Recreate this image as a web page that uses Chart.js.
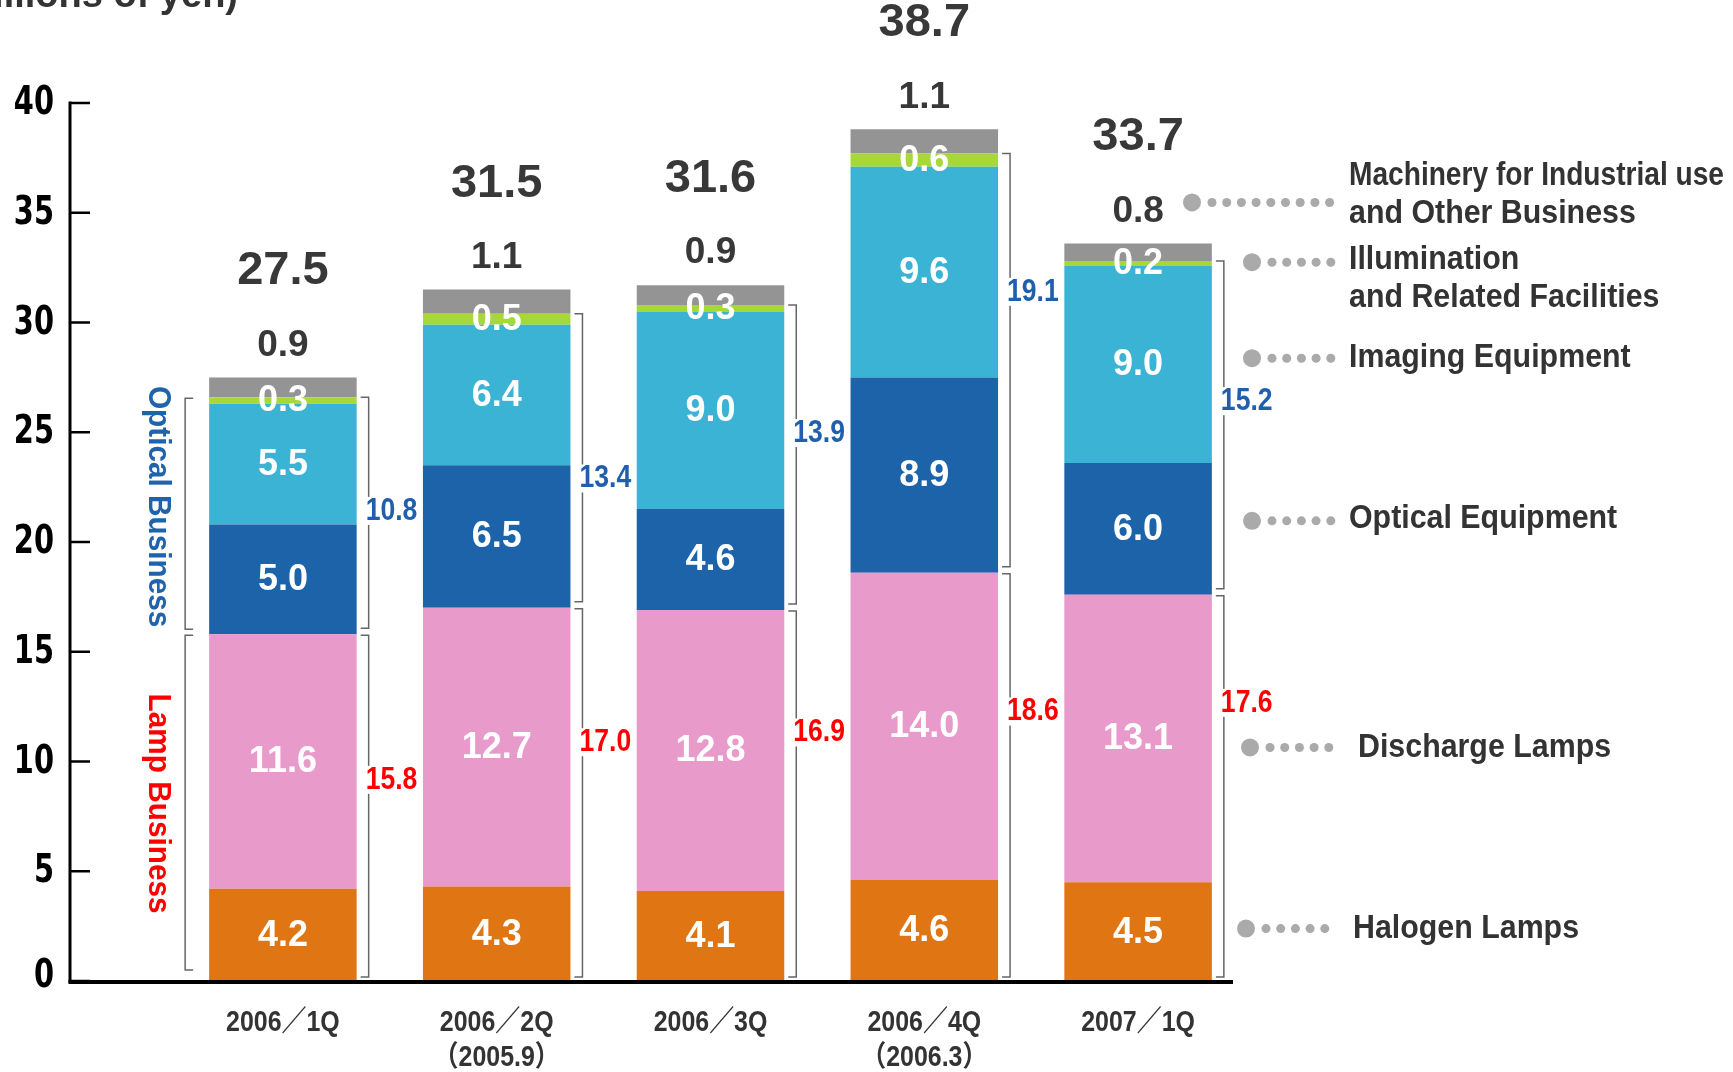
<!DOCTYPE html>
<html>
<head>
<meta charset="utf-8">
<script src="https://cdn.jsdelivr.net/npm/chart.js@4.4.1/dist/chart.umd.min.js"></script>
<style>
  html, body { margin: 0; padding: 0; background: #fff; overflow: hidden; }
  #grafico { display: block; }
</style>
</head>
<body>
<canvas id="grafico" width="1733" height="1072"></canvas>
<script>
// dados (mil milhões de ienes)
const categorias = [['2006／1Q'], ['2006／2Q', '（2005.9）'], ['2006／3Q'], ['2006／4Q', '（2006.3）'], ['2007／1Q']];
const halogenLamps   = [4.2, 4.3, 4.1, 4.6, 4.5];
const dischargeLamps = [11.6, 12.7, 12.8, 14.0, 13.1];
const opticalEquip   = [5.0, 6.5, 4.6, 8.9, 6.0];
const imagingEquip   = [5.5, 6.4, 9.0, 9.6, 9.0];
const illumination   = [0.3, 0.5, 0.3, 0.6, 0.2];
const machinery      = [0.9, 1.1, 0.9, 1.1, 0.8];
const totais          = [27.5, 31.5, 31.6, 38.7, 33.7];
const lampBusiness    = [15.8, 17.0, 16.9, 18.6, 17.6];
const opticalBusiness = [10.8, 13.4, 13.9, 19.1, 15.2];
const nomesSeries = [
    ['Halogen Lamps'],
    ['Discharge Lamps'],
    ['Optical Equipment'],
    ['Imaging Equipment'],
    ['Illumination', 'and Related Facilities'],
    ['Machinery for Industrial use', 'and Other Business']
];

const cores = ['#E07514', '#E89ACA', '#1C63A9', '#3BB3D4', '#A8D838', '#949494'];
const SANS = '"Liberation Sans", "Noto Sans CJK JP", Arial, sans-serif';
const HEAVY = '"DejaVu Sans", sans-serif';

// posição de cada legenda (estilo)
const legendaEstilo = [
    { dotX: 1246, textX: 1353, dy: -3, linhas: [0] },
    { dotX: 1250, textX: 1358, dy: 9, linhas: [0] },
    { dotX: 1252, textX: 1349, dy: -8, linhas: [-2] },
    { dotX: 1252, textX: 1349, dy: -6, linhas: [0] },
    { dotX: 1252, textX: 1349, dy: -1, linhas: [-2, 36] },
    { dotX: 1192, textX: 1349, dy: -7, linhas: [-27, 11] }
];
// altura relativa dos subtotais dentro de cada chaveta (estilo)
const fracLamp = [0.58, 0.64, 0.67, 0.66, 0.72];
const fracOpt  = [0.52, 0.44, 0.58, 0.67, 0.58];

// texto com compressão horizontal
function texto(ctx, txt, x, y, fonte, cor, esc, align, maxW) {
    ctx.save();
    ctx.font = fonte;
    ctx.fillStyle = cor;
    ctx.textAlign = align || 'center';
    ctx.textBaseline = 'middle';
    ctx.translate(x, y);
    ctx.scale(esc, 1);
    if (maxW) ctx.fillText(txt, 0, 0, maxW / esc);
    else ctx.fillText(txt, 0, 0);
    ctx.restore();
}

const desenho = {
    id: 'desenho',
    afterDatasetsDraw(chart) {
        const ctx = chart.ctx;
        const ys = chart.scales.y;
        const xs = chart.scales.x;
        const area = chart.chartArea;
        const y0 = ys.getPixelForValue(0);
        const eixoX = area.left - 106;
        const metas = chart.data.datasets.map((d, i) => chart.getDatasetMeta(i));
        ctx.save();

        // título cortado no topo
        ctx.fillStyle = '#333';
        ctx.font = 'bold 38px ' + SANS;
        ctx.textAlign = 'right';
        ctx.textBaseline = 'alphabetic';
        ctx.fillText('(Billions of yen)', 238, 7);

        // eixo y com marcas para dentro
        ctx.strokeStyle = '#000';
        ctx.lineWidth = 3;
        ctx.beginPath();
        ctx.moveTo(eixoX, ys.getPixelForValue(40) - 1.5);
        ctx.lineTo(eixoX, y0 + 2);
        ctx.stroke();
        ctx.lineWidth = 2.5;
        ys.ticks.forEach(t => {
            const py = ys.getPixelForValue(t.value);
            ctx.beginPath();
            ctx.moveTo(eixoX, py);
            ctx.lineTo(eixoX + 20, py);
            ctx.stroke();
            texto(ctx, String(t.value), eixoX - 16, py + (t.value === 0 ? -4 : 1), 'bold 39px ' + HEAVY, '#000', 0.74, 'right');
        });
        // eixo x
        ctx.lineWidth = 4;
        ctx.beginPath();
        ctx.moveTo(eixoX - 1.5, y0 + 1);
        ctx.lineTo(area.right - 12, y0 + 1);
        ctx.stroke();

        // rótulos do eixo x
        categorias.forEach((linhas, i) => {
            const px = xs.getPixelForTick(i);
            linhas.forEach((t, k) => texto(ctx, t, px, y0 + 42 + k * 35, 'bold 29px ' + SANS, '#333', 0.86));
        });

        // valores dentro das barras
        for (let d = 0; d < 5; d++) {
            metas[d].data.forEach((el, i) => {
                const v = chart.data.datasets[d].data[i];
                texto(ctx, v.toFixed(1), el.x, (el.y + el.base) / 2 + 1, 'bold 36px ' + SANS, '#fff', 1);
            });
        }

        // valores por cima
        metas[5].data.forEach((el, i) => {
            texto(ctx, machinery[i].toFixed(1), el.x, el.y - 32, 'bold 37px ' + SANS, '#383838', 1);
            texto(ctx, totais[i].toFixed(1), el.x, el.y - 106, 'bold 47px ' + SANS, '#383838', 1);
        });

        // chavetas
        ctx.strokeStyle = '#666';
        ctx.lineWidth = 1.5;
        const chaveta = (bx, yTop, yBot, dir) => {
            ctx.beginPath();
            ctx.moveTo(bx - 8 * dir, yTop);
            ctx.lineTo(bx, yTop);
            ctx.lineTo(bx, yBot);
            ctx.lineTo(bx - 8 * dir, yBot);
            ctx.stroke();
        };
        const fonteSub = 'bold 32px ' + SANS;
        const subtotal = (txt, x, y, cor) => {
            ctx.font = fonteSub;
            const w = ctx.measureText(txt).width * 0.83;
            ctx.fillStyle = '#fff';
            ctx.fillRect(x - 1, y - 14, w + 2, 28);
            texto(ctx, txt, x, y, fonteSub, cor, 0.83, 'left');
        };
        metas[0].data.forEach((el, i) => {
            const right = el.x + el.width / 2;
            const left = el.x - el.width / 2;
            const yLamp = metas[1].data[i].y;
            const yOpt = metas[4].data[i].y;
            const bx = right + 12;
            chaveta(bx, yLamp + 1, y0 - 4, 1);
            chaveta(bx, yOpt, yLamp - 6, 1);
            if (i === 0) {
                const lx = left - 24;
                chaveta(lx, yLamp + 1, y0 - 11, -1);
                chaveta(lx, yOpt + 1, yLamp - 5, -1);
                const rodado = (txt, cy, cor) => {
                    ctx.save();
                    ctx.translate(lx - 27, cy);
                    ctx.rotate(Math.PI / 2);
                    texto(ctx, txt, 0, 0, 'bold 32px ' + SANS, cor, 0.93);
                    ctx.restore();
                };
                rodado('Optical Business', (yOpt + yLamp) / 2 - 9, '#1F63AD');
                rodado('Lamp Business', (yLamp + y0) / 2 - 4, '#FF0000');
            }
            // subtotais dos negócios
            const tx = bx - 3;
            subtotal(lampBusiness[i].toFixed(1), tx, ys.getPixelForValue(lampBusiness[i] * fracLamp[i]), '#FF0000');
            subtotal(opticalBusiness[i].toFixed(1), tx, ys.getPixelForValue(lampBusiness[i] + opticalBusiness[i] * fracOpt[i]), '#1F5FAD');
        });

        // legenda à direita, alinhada com a última barra
        const last = metas[0].data.length - 1;
        nomesSeries.forEach((linhas, d) => {
            const el = metas[d].data[last];
            const st = legendaEstilo[d];
            const cy = (d === 5 ? el.y - 34 : (el.y + el.base) / 2) + st.dy;
            ctx.fillStyle = '#AAAAAA';
            ctx.beginPath();
            ctx.arc(st.dotX, cy, 9, 0, Math.PI * 2);
            ctx.fill();
            for (let x = st.dotX + 20; x <= 1333; x += 14.7) {
                ctx.beginPath();
                ctx.arc(x, cy, 4.5, 0, Math.PI * 2);
                ctx.fill();
            }
            linhas.forEach((t, k) => texto(ctx, t, st.textX, cy + st.linhas[k], 'bold 33px ' + SANS, '#333', 0.92, 'left', 1724 - st.textX));
        });
        ctx.restore();
    }
};

new Chart(document.getElementById('grafico'), {
    type: 'bar',
    data: {
        labels: categorias,
        datasets: [
            { label: nomesSeries[0].join(' '), data: halogenLamps, backgroundColor: cores[0] },
            { label: nomesSeries[1].join(' '), data: dischargeLamps, backgroundColor: cores[1] },
            { label: nomesSeries[2].join(' '), data: opticalEquip, backgroundColor: cores[2] },
            { label: nomesSeries[3].join(' '), data: imagingEquip, backgroundColor: cores[3] },
            { label: nomesSeries[4].join(' '), data: illumination, backgroundColor: cores[4] },
            { label: nomesSeries[5].join(' '), data: machinery, backgroundColor: cores[5] }
        ]
    },
    options: {
        responsive: false,
        animation: false,
        datasets: { bar: { borderWidth: 0, barPercentage: 0.69, categoryPercentage: 1.0 } },
        layout: { padding: { top: 103, right: 488, bottom: 0, left: 0 } },
        plugins: { legend: { display: false }, tooltip: { enabled: false } },
        scales: {
            x: {
                stacked: true,
                grid: { display: false, drawTicks: false },
                border: { display: false },
                ticks: { display: false },
                afterFit(scale) { scale.height = 91; }
            },
            y: {
                stacked: true,
                min: 0,
                max: 40,
                grid: { display: false, drawTicks: false },
                border: { display: false },
                ticks: { display: false, stepSize: 5 },
                afterFit(scale) { scale.width = 176; }
            }
        }
    },
    plugins: [desenho]
});
</script>
</body>
</html>
